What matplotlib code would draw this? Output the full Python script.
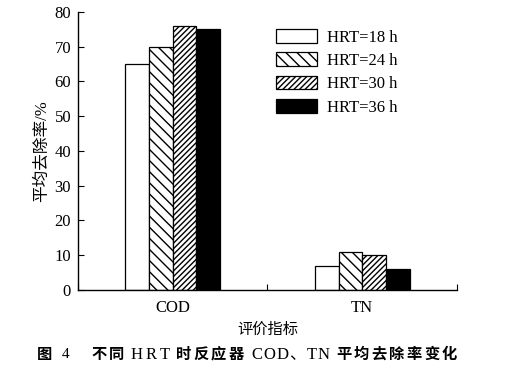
import matplotlib
matplotlib.use("Agg")
import matplotlib.pyplot as plt
import numpy as np

plt.rcParams['font.family'] = ['Liberation Serif', 'Noto Sans CJK SC']
plt.rcParams['hatch.linewidth'] = 1.0

categories = ["COD", "TN"]
series_labels = ["HRT=18 h", "HRT=24 h", "HRT=30 h", "HRT=36 h"]
values = {
    "HRT=18 h": [65, 7],
    "HRT=24 h": [70, 11],
    "HRT=30 h": [76, 10],
    "HRT=36 h": [75, 6],
}
hatches = ["", "\\\\\\", "//////", ""]
facecolors = ["white", "white", "white", "black"]

fig = plt.figure(figsize=(5.14, 3.69), dpi=100)
ax = fig.add_axes([0.1518, 0.2141, 0.889 - 0.1518, 0.9675 - 0.2141])

x = np.arange(len(categories)) + 0.5
w = 0.125
for i, lab in enumerate(series_labels):
    ax.bar(x + (i - 1.5) * w, values[lab], width=w, color=facecolors[i],
           edgecolor="black", linewidth=0.9, hatch=hatches[i], label=lab)

ax.set_xlim(0, 2)
ax.set_ylim(0, 80)
ax.set_yticks(np.arange(0, 81, 10))
ax.set_xticks([0, 1, 2])
ax.set_xticklabels(["", "", ""])
ax.set_xticks(x, minor=True)
ax.set_xticklabels(categories, minor=True, fontsize=12)
ax.tick_params(axis='x', which='minor', length=0, pad=7)
ax.tick_params(axis='x', which='major', direction='in', length=4)
ax.tick_params(axis='y', direction='in', length=4, labelsize=12, pad=5)
for s in ["top", "right"]:
    ax.spines[s].set_visible(False)
for s in ["left", "bottom"]:
    ax.spines[s].set_linewidth(1.0)

ax.set_ylabel("平均去除率/%", fontsize=12, labelpad=3)
ax.set_xlabel("评价指标", fontsize=11, labelpad=5)

leg = ax.legend(loc="upper left", bbox_to_anchor=(0.504, 0.963), frameon=False,
                fontsize=12, handlelength=2.5, handleheight=0.9,
                labelspacing=0.4, handletextpad=0.55, borderaxespad=0)

fig.canvas.draw()
renderer = fig.canvas.get_renderer()
# (text, weight, letter gap px, trailing space px, fontsize)
pieces = [("图", "bold", 0, 10, 11),
          ("4", "normal", 0, 21.5, 11),
          ("不同", "bold", 2.3, 6, 11),
          ("HRT", "normal", 3.5, 5.5, 12),
          ("时反应器", "bold", 2.3, 8, 11),
          ("COD、TN", "normal", 0.8, 7, 12),
          ("平均去除率变化", "bold", 2.3, 0, 11)]
xpos = 37
ypix = 369 - 355
for txt, wt, gap, trail, fs in pieces:
    for k, ch in enumerate(txt):
        t = fig.text(xpos / 514, ypix / 369, ch, fontsize=fs, fontweight=wt,
                     va="center", ha="left")
        bb = t.get_window_extent(renderer=renderer)
        xpos = bb.x1 + (gap if k < len(txt) - 1 else trail)

fig.savefig("out.png", dpi=100)
